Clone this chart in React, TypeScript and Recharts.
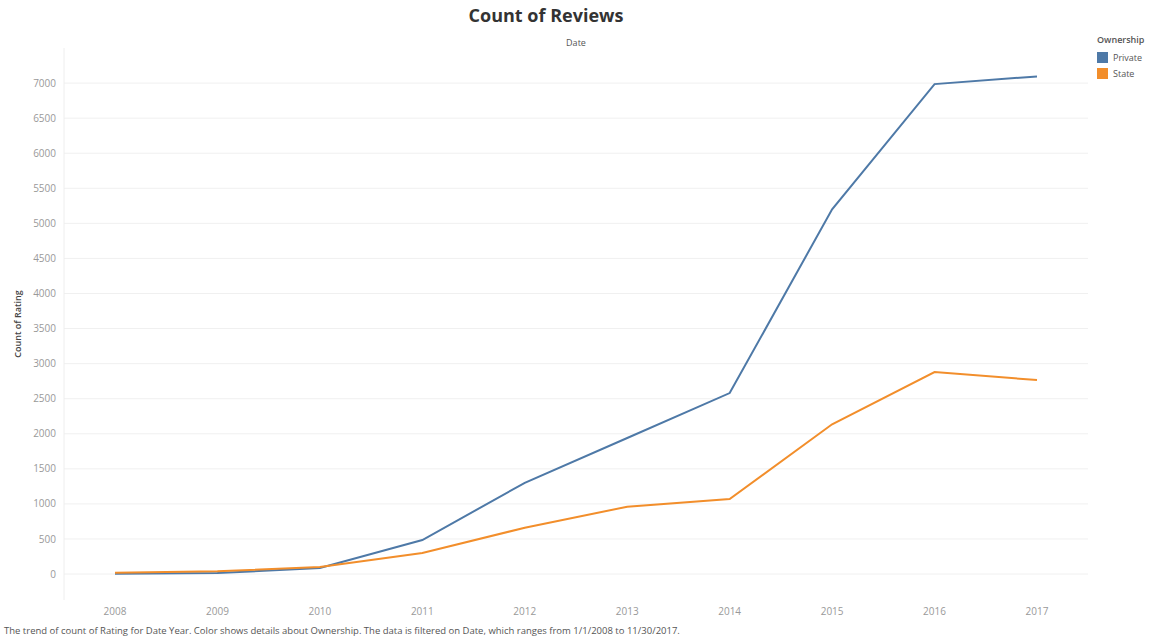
import React from 'react';
import { LineChart, Line, XAxis, YAxis, CartesianGrid } from 'recharts';

const years = ['2008', '2009', '2010', '2011', '2012', '2013', '2014', '2015', '2016', '2017'];
const privateCounts = [5, 15, 85, 485, 1300, 1940, 2580, 5200, 6985, 7095];
const stateCounts = [20, 40, 100, 300, 660, 960, 1070, 2135, 2880, 2766];
const yTicks = [0, 500, 1000, 1500, 2000, 2500, 3000, 3500, 4000, 4500, 5000, 5500, 6000, 6500, 7000];

const series = [
  { key: 'Private', color: '#4e79a7' },
  { key: 'State', color: '#f28e2b' },
];

const data = years.map((year, i) => ({
  year,
  Private: privateCounts[i],
  State: stateCounts[i],
}));

const font = '"Open Sans", Lato, sans-serif';

export default function App() {
  return (
    <div style={{ position: 'absolute', left: 0, top: 0, width: 1152, height: 640, background: '#fff', fontFamily: font }}>
      <div style={{ position: 'absolute', left: 0, width: 1092, top: 3, textAlign: 'center', fontSize: 18, fontWeight: 700, color: '#333' }}>
        Count of Reviews
      </div>
      <div style={{ position: 'absolute', left: 64, width: 1024, top: 36, textAlign: 'center', fontSize: 9, color: '#555' }}>
        Date
      </div>
      <LineChart width={1152} height={640} data={data} margin={{ top: 48, right: 64, left: 0, bottom: 16 }}>
        <CartesianGrid vertical={false} horizontalValues={yTicks} stroke="#f0f0f0" />
        <XAxis
          dataKey="year"
          axisLine={false}
          tickLine={false}
          padding={{ left: 51, right: 51 }}
          height={24}
          tick={{ fill: '#999', fontSize: 10, fontFamily: font }}
        />
        <YAxis
          width={64}
          domain={[-370, 7500]}
          ticks={yTicks}
          allowDataOverflow
          tickLine={false}
          axisLine={{ stroke: '#eee' }}
          tick={{ fill: '#999', fontSize: 10, fontFamily: font }}
          label={{ value: 'Count of Rating', angle: -90, position: 'insideLeft', offset: 18, style: { fill: '#444', fontSize: 9, fontWeight: 600, textAnchor: 'middle' } }}
        />
        {series.map((s) => (
          <Line
            key={s.key}
            type="linear"
            dataKey={s.key}
            stroke={s.color}
            strokeWidth={2}
            dot={false}
            isAnimationActive={false}
          />
        ))}
      </LineChart>
      <div style={{ position: 'absolute', left: 1097, top: 33, fontSize: 9, color: '#555' }}>
        <div style={{ fontWeight: 600, marginBottom: 3 }}>Ownership</div>
        {series.map((s) => (
          <div key={s.key} style={{ display: 'flex', alignItems: 'center', height: 16 }}>
            <span style={{ width: 11, height: 11, background: s.color, marginRight: 5, display: 'inline-block' }} />
            {s.key}
          </div>
        ))}
      </div>
      <div style={{ position: 'absolute', left: 4, top: 624, fontSize: 9.5, color: '#555', whiteSpace: 'nowrap' }}>
        The trend of count of Rating for Date Year.  Color shows details about Ownership. The data is filtered on Date, which ranges from 1/1/2008 to 11/30/2017.
      </div>
    </div>
  );
}
